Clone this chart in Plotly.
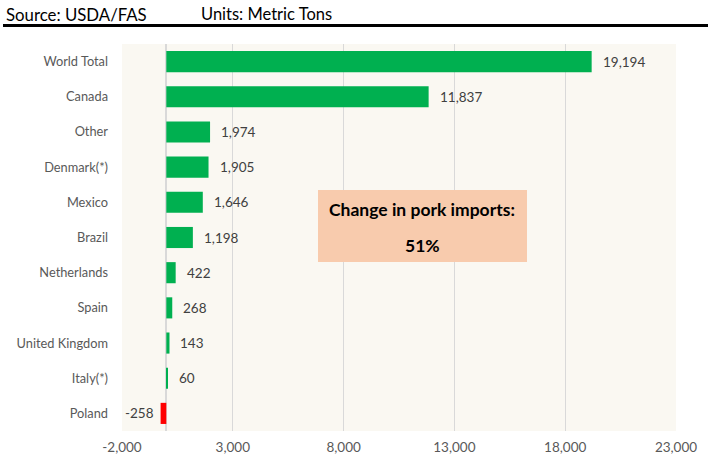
import plotly.graph_objects as go

countries = ["World Total", "Canada", "Other", "Denmark(*)", "Mexico", "Brazil",
             "Netherlands", "Spain", "United Kingdom", "Italy(*)", "Poland"]
changes = [19194, 11837, 1974, 1905, 1646, 1198, 422, 268, 143, 60, -258]
x_tickvals = [-2000, 3000, 8000, 13000, 18000, 23000]
x_ticktext = ["-2,000", "3,000", "8,000", "13,000", "18,000", "23,000"]
header_source = "Source: USDA/FAS"
header_units = "Units: Metric Tons"
box_title = "Change in pork imports:"
box_value = "51%"

FONT = "Lato, 'Open Sans', sans-serif"
colors = ["#00B050" if v >= 0 else "#FF0000" for v in changes]

fig = go.Figure()
fig.add_trace(go.Bar(
    y=countries, x=changes, orientation="h",
    marker=dict(color=colors, line=dict(width=0)),
    hoverinfo="x+y",
))

# data labels
for c, v in zip(countries, changes):
    fig.add_annotation(
        x=v, y=c, xref="x", yref="y",
        text=f"{v:,}", showarrow=False,
        xanchor="left" if v >= 0 else "right",
        xshift=9 if v >= 0 else -5,
        font=dict(family=FONT, size=13.5, color="#404040"),
    )

L, R, T, B, W, H = 122, 32, 44, 30, 708, 461
pw = W - L - R
ph = H - T - B

def px(x):
    return (x - L) / pw

def py(y):
    return (H - B - y) / ph

# header
fig.add_annotation(x=px(4), y=py(14), xref="paper", yref="paper", text=header_source,
                   showarrow=False, xanchor="left", yanchor="middle",
                   font=dict(family=FONT, size=16.8, color="#000000"))
fig.add_annotation(x=px(199), y=py(14), xref="paper", yref="paper", text=header_units,
                   showarrow=False, xanchor="left", yanchor="middle",
                   font=dict(family=FONT, size=16.5, color="#000000"))
fig.add_shape(type="line", xref="paper", yref="paper",
              x0=px(3), x1=px(708), y0=py(25.5), y1=py(25.5),
              line=dict(color="#000000", width=3))

# callout box
fig.add_shape(type="rect", xref="paper", yref="paper",
              x0=px(318), x1=px(527), y0=py(190), y1=py(262),
              fillcolor="#F8CBAD", line=dict(width=0), layer="above")
fig.add_annotation(x=px(422), y=py(210), xref="paper", yref="paper", text=f"<b>{box_title}</b>",
                   showarrow=False, xanchor="center", yanchor="middle",
                   font=dict(family=FONT, size=17.5, color="#000000"))
fig.add_annotation(x=px(422), y=py(245), xref="paper", yref="paper", text=f"<b>{box_value}</b>",
                   showarrow=False, xanchor="center", yanchor="middle",
                   font=dict(family=FONT, size=17.5, color="#000000"))

fig.update_layout(
    width=W, height=H,
    margin=dict(l=L, r=R, t=T, b=B, pad=0, autoexpand=False),
    paper_bgcolor="#FFFFFF",
    plot_bgcolor="#FAF8F2",
    showlegend=False,
    bargap=0.4,
    font=dict(family=FONT, size=13.5, color="#595959"),
)
fig.update_xaxes(
    range=[-2000, 23000], tickmode="array", tickvals=x_tickvals, ticktext=x_ticktext,
    showgrid=True, gridcolor="#D9D9D9", gridwidth=1,
    zeroline=True, zerolinecolor="#D9D9D9", zerolinewidth=1.5,
    showline=False, ticks="", ticklabelstandoff=6, automargin=False,
    tickfont=dict(family=FONT, size=13.5, color="#595959"),
    fixedrange=True,
)
fig.update_yaxes(
    categoryorder="array", categoryarray=countries[::-1],
    showgrid=False, showline=False, ticks="", ticklabelstandoff=13, automargin=False,
    tickfont=dict(family=FONT, size=12.8, color="#595959"),
    fixedrange=True,
)

fig.write_html(
    "out.html",
    config={"displayModeBar": False},
    post_script="document.body.style.margin='0';document.body.style.overflow='hidden';",
)
